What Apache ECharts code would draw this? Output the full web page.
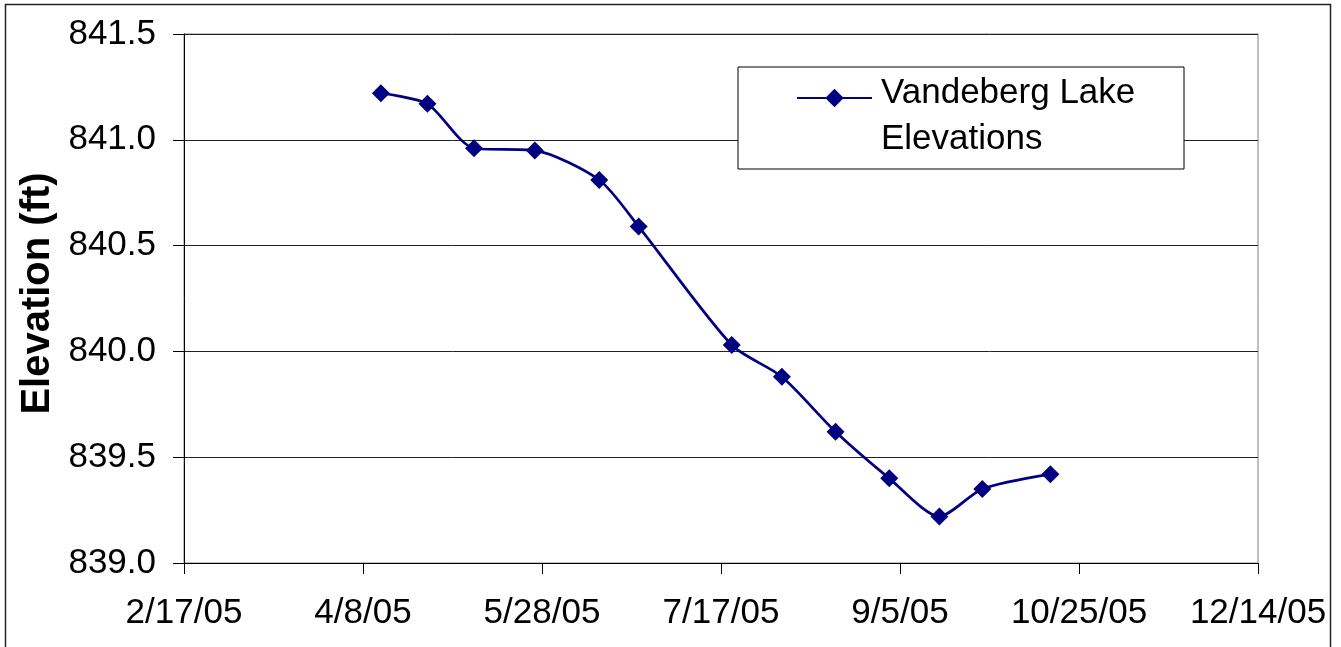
<!DOCTYPE html>
<html>
<head>
<meta charset="utf-8">
<script src="https://cdn.jsdelivr.net/npm/echarts@6/dist/echarts.min.js"></script>
<style>
  html, body { margin: 0; padding: 0; background: #fff; }
  #chart { width: 1341px; height: 647px; }
</style>
</head>
<body>
<div id="chart"></div>
<script>
// survey dates and lake elevations (ft)
const sampleDates = ["4/13/05", "4/26/05", "5/9/05", "5/26/05", "6/13/05", "6/24/05", "7/20/05",
  "8/3/05", "8/18/05", "9/2/05", "9/16/05", "9/28/05", "10/17/05"];
const elevations = [841.22, 841.17, 840.96, 840.95, 840.81, 840.59, 840.03,
  839.88, 839.62, 839.40, 839.22, 839.35, 839.42];

const xStart = "2/17/05";
const xEnd = "12/14/05";
const xStepDays = 50;
const yMin = 839.0;
const yMax = 841.5;
const yStep = 0.5;

const seriesName = "Vandeberg Lake Elevations";
const FONT = "'Liberation Sans', Arial, sans-serif";

// excel-style day serials so a 50 day step lines up with 2/17/05
const EPOCH = Date.UTC(1899, 11, 30);
function toSerial(s) {
  const [m, d, y] = s.split("/").map(Number);
  return Math.round((Date.UTC(2000 + y, m - 1, d) - EPOCH) / 86400000);
}
function fromSerial(n) {
  const dt = new Date(EPOCH + n * 86400000);
  return (dt.getUTCMonth() + 1) + "/" + dt.getUTCDate() + "/" + String(dt.getUTCFullYear()).slice(2);
}

const points = sampleDates.map((d, i) => [toSerial(d), elevations[i]]);

const chart = echarts.init(document.getElementById("chart"), null, { renderer: "canvas" });
chart.setOption({
  animation: false,
  textStyle: { fontFamily: FONT },
  grid: {
    left: 184, top: 34, width: 1074, height: 529,
    show: true, borderColor: "#808080", borderWidth: 1, backgroundColor: "transparent"
  },
  xAxis: {
    type: "value",
    min: toSerial(xStart),
    max: toSerial(xEnd),
    interval: xStepDays,
    axisLine: { show: true, lineStyle: { color: "#000", width: 1 } },
    axisTick: { show: true, inside: false, length: 11, lineStyle: { color: "#000" } },
    splitLine: { show: false },
    axisLabel: {
      formatter: (v) => fromSerial(v),
      fontSize: 35, color: "#000", fontFamily: FONT, margin: 33,
      showMinLabel: true, showMaxLabel: true
    }
  },
  yAxis: {
    type: "value",
    min: yMin,
    max: yMax,
    interval: yStep,
    name: "Elevation (ft)",
    nameLocation: "middle",
    nameGap: 126,
    nameTextStyle: {
      fontSize: 40, fontWeight: "bold", color: "#000", fontFamily: FONT,
      padding: [0, 0, 0, 10]
    },
    axisLine: { show: true, lineStyle: { color: "#000", width: 1 } },
    axisTick: { show: true, inside: false, length: 11, lineStyle: { color: "#000" } },
    splitLine: { show: true, lineStyle: { color: "#222", width: 1 } },
    axisLabel: {
      formatter: (v) => v.toFixed(1),
      fontSize: 35, color: "#000", fontFamily: FONT, margin: 28
    }
  },
  legend: {
    left: 796,
    top: 47,
    z: 10,
    padding: 0,
    itemWidth: 75,
    itemHeight: 23,
    selectedMode: false,
    formatter: () => "{s| }\n{t|Vandeberg Lake}\n{t|Elevations}",
    textStyle: {
      color: "#000", fontFamily: FONT,
      rich: {
        s: { fontSize: 10, lineHeight: 36 },
        t: { fontSize: 35, lineHeight: 46, color: "#000", fontFamily: FONT, padding: [0, 0, 0, 4] }
      }
    }
  },
  graphic: [
    {
      type: "rect", z: 5,
      shape: { x: 738, y: 67, width: 446, height: 102 },
      style: { fill: "#fff", stroke: "#000", lineWidth: 1 }
    },
    {
      type: "rect", z: 5,
      shape: { x: 5.5, y: 4.5, width: 1325, height: 660 },
      style: { fill: "none", stroke: "#222", lineWidth: 1.5 }
    }
  ],
  series: [
    {
      name: seriesName,
      type: "line",
      data: points,
      smooth: 0.25,
      symbol: "diamond",
      symbolSize: 18,
      lineStyle: { color: "#000080", width: 2.7 },
      itemStyle: { color: "#000080" }
    }
  ]
});
</script>
</body>
</html>
